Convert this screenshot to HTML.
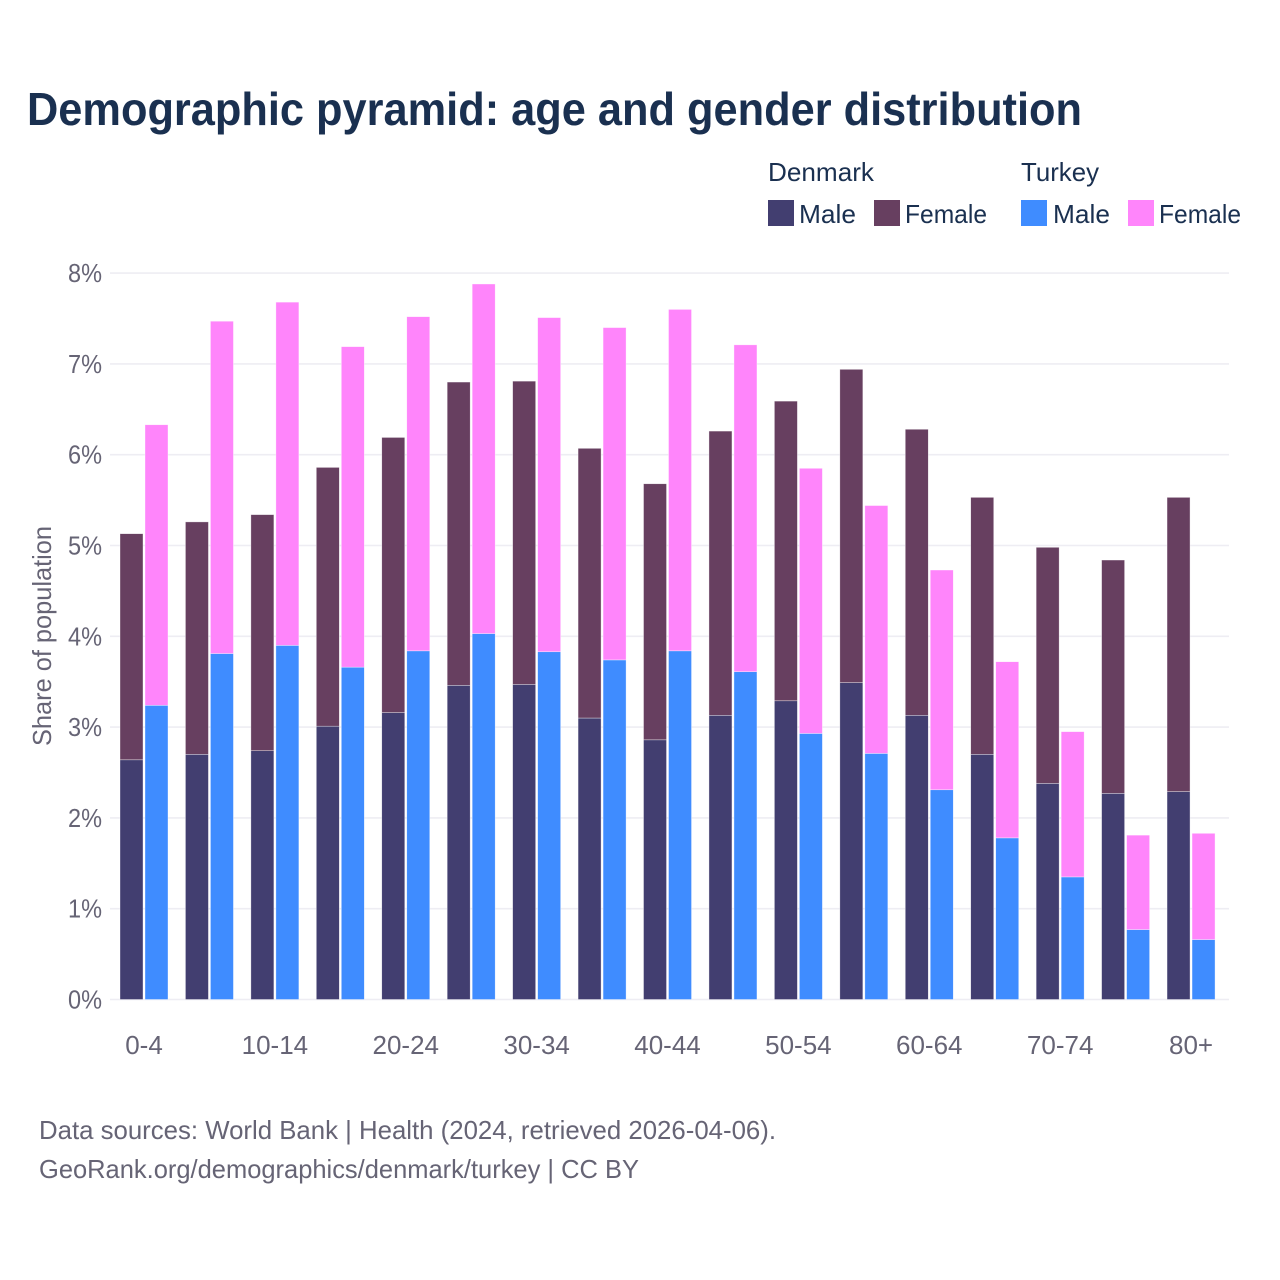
<!DOCTYPE html>
<html lang="en">
<head>
<meta charset="utf-8">
<title>Demographic pyramid: age and gender distribution</title>
<style>
html,body{margin:0;padding:0;background:#fff;width:1280px;height:1280px;overflow:hidden}
svg{display:block}
text{font-family:"Liberation Sans",sans-serif}
</style>
</head>
<body>
<svg id="chart" xmlns="http://www.w3.org/2000/svg" width="1280" height="1280" viewBox="0 0 1280 1280">
  <rect x="0" y="0" width="1280" height="1280" fill="#fff"/>
  <text x="27" y="125" font-size="46" font-weight="700" fill="#1a3050" textLength="1055" lengthAdjust="spacingAndGlyphs">Demographic pyramid: age and gender distribution</text>

  <g font-size="26" fill="#1a3050">
    <text x="768" y="181" textLength="106" lengthAdjust="spacingAndGlyphs">Denmark</text>
    <text x="1021" y="181" textLength="78" lengthAdjust="spacingAndGlyphs">Turkey</text>
    <rect x="768" y="200" width="26" height="26" fill="#423e70"/>
    <text x="799" y="223" textLength="57" lengthAdjust="spacingAndGlyphs">Male</text>
    <rect x="874" y="200" width="26" height="26" fill="#673f60"/>
    <text x="905" y="223" textLength="82" lengthAdjust="spacingAndGlyphs">Female</text>
    <rect x="1021" y="200" width="26" height="26" fill="#3f8cff"/>
    <text x="1053" y="223" textLength="57" lengthAdjust="spacingAndGlyphs">Male</text>
    <rect x="1128" y="200" width="26" height="26" fill="#ff85fb"/>
    <text x="1159" y="223" textLength="82" lengthAdjust="spacingAndGlyphs">Female</text>
  </g>

  <g id="grid"></g>
  <g id="yticks"></g>
  <g id="bars"></g>
  <g id="xticks"></g>

  <text transform="translate(51,636) rotate(-90)" text-anchor="middle" font-size="26" fill="#666475" textLength="220" lengthAdjust="spacingAndGlyphs">Share of population</text>

  <text x="39" y="1139" font-size="26" fill="#666475" textLength="737" lengthAdjust="spacingAndGlyphs">Data sources: World Bank | Health (2024, retrieved 2026-04-06).</text>
  <text x="39" y="1178" font-size="26" fill="#666475" textLength="600" lengthAdjust="spacingAndGlyphs">GeoRank.org/demographics/denmark/turkey | CC BY</text>
</svg>
<script>
const ageGroups = ["0-4","5-9","10-14","15-19","20-24","25-29","30-34","35-39","40-44","45-49","50-54","55-59","60-64","65-69","70-74","75-79","80+"];
const xTickLabels = ["0-4","10-14","20-24","30-34","40-44","50-54","60-64","70-74","80+"];
const yTickValues = [0,1,2,3,4,5,6,7,8];
const denmarkMale = [2.64,2.70,2.74,3.01,3.16,3.46,3.47,3.10,2.86,3.13,3.29,3.49,3.13,2.70,2.38,2.27,2.29];
const denmarkFemale = [2.49,2.56,2.60,2.85,3.03,3.34,3.34,2.97,2.82,3.13,3.30,3.45,3.15,2.83,2.60,2.57,3.24];
const turkeyMale = [3.24,3.81,3.90,3.66,3.84,4.03,3.83,3.74,3.84,3.61,2.93,2.71,2.31,1.78,1.35,0.77,0.66];
const turkeyFemale = [3.09,3.66,3.78,3.53,3.68,3.85,3.68,3.66,3.76,3.60,2.92,2.73,2.42,1.94,1.60,1.04,1.17];

const SVGNS = "http://www.w3.org/2000/svg";
const plotLeft = 110, plotRight = 1229, baseY = 999.5, unitY = 90.8;
const firstBarX = 120, groupStep = 65.44, barWidth = 23, barOffset = 25;
function yScale(v) { return baseY - v * unitY; }
function groupX(i) { return firstBarX + i * groupStep; }
function make(tag, attrs, parent) {
  const el = document.createElementNS(SVGNS, tag);
  for (const k in attrs) el.setAttribute(k, attrs[k]);
  parent.appendChild(el);
  return el;
}
const gridG = document.getElementById("grid");
const yG = document.getElementById("yticks");
const barsG = document.getElementById("bars");
const xG = document.getElementById("xticks");

yTickValues.forEach(function (v) {
  const line = make("line", {x1: plotLeft, x2: plotRight, y1: yScale(v), y2: yScale(v), stroke: "#eeedf3", "stroke-width": 1.6}, gridG);
  
  
  const t = make("text", {x: 102, y: yScale(v) + 9, "text-anchor": "end", "font-size": 26, fill: "#666475", textLength: 34, lengthAdjust: "spacingAndGlyphs"}, yG);
  t.textContent = v + "%";
  
  
});

function addBar(x, low, high, fill) {
  const r = make("rect", {x: x, y: yScale(high), width: barWidth, height: yScale(low) - yScale(high), fill: fill, stroke: "#ffffff", "stroke-opacity": 0.6, "stroke-width": 0.6}, barsG);
  
  
  return r;
}
ageGroups.forEach(function (label, i) {
  const x0 = groupX(i), x1 = x0 + barOffset;
  addBar(x0, 0, denmarkMale[i], "#423e70");
  addBar(x0, denmarkMale[i], denmarkMale[i] + denmarkFemale[i], "#673f60");
  addBar(x1, 0, turkeyMale[i], "#3f8cff");
  addBar(x1, turkeyMale[i], turkeyMale[i] + turkeyFemale[i], "#ff85fb");
  if (xTickLabels.indexOf(label) >= 0) {
    const t = make("text", {x: x0 + 24, y: 1054, "text-anchor": "middle", "font-size": 26, fill: "#666475"}, xG);
    t.textContent = label;
    
    
  }
});
</script>
</body>
</html>
